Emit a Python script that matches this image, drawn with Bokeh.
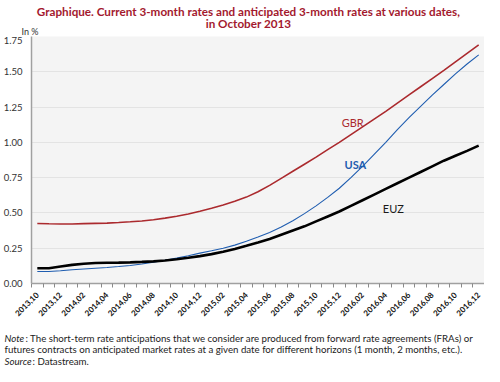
import math
from bokeh.plotting import figure
from bokeh.layouts import column
from bokeh.models import Range1d, FixedTicker, PrintfTickFormatter, Label
from bokeh.embed import file_html
from bokeh.resources import INLINE

months = ["2013,10", "2013,11", "2013,12", "2014,01", "2014,02", "2014,03", "2014,04",
          "2014,05", "2014,06", "2014,07", "2014,08", "2014,09", "2014,10", "2014,11",
          "2014,12", "2015,01", "2015,02", "2015,03", "2015,04", "2015,05", "2015,06",
          "2015,07", "2015,08", "2015,09", "2015,10", "2015,11", "2015,12", "2016,01",
          "2016,02", "2016,03", "2016,04", "2016,05", "2016,06", "2016,07", "2016,08",
          "2016,09", "2016,10", "2016,11", "2016,12"]

gbr = [0.425, 0.423, 0.422, 0.422, 0.424, 0.426, 0.428, 0.432, 0.437, 0.443,
       0.452, 0.463, 0.476, 0.492, 0.512, 0.533, 0.556, 0.582, 0.612, 0.650,
       0.695, 0.745, 0.795, 0.845, 0.895, 0.948, 1.000, 1.055, 1.110, 1.165,
       1.220, 1.278, 1.336, 1.394, 1.452, 1.510, 1.570, 1.630, 1.690]

usa = [0.085, 0.085, 0.090, 0.097, 0.103, 0.108, 0.113, 0.120, 0.128, 0.138,
       0.150, 0.165, 0.180, 0.197, 0.215, 0.232, 0.250, 0.272, 0.300, 0.330,
       0.362, 0.400, 0.445, 0.495, 0.550, 0.610, 0.675, 0.750, 0.830, 0.915,
       1.000, 1.090, 1.175, 1.255, 1.335, 1.410, 1.485, 1.555, 1.620]

euz = [0.108, 0.108, 0.120, 0.132, 0.140, 0.145, 0.147, 0.148, 0.150, 0.153,
       0.157, 0.163, 0.172, 0.182, 0.194, 0.208, 0.225, 0.245, 0.267, 0.290,
       0.315, 0.345, 0.375, 0.405, 0.440, 0.475, 0.510, 0.550, 0.590, 0.630,
       0.670, 0.710, 0.750, 0.790, 0.830, 0.870, 0.905, 0.940, 0.977]

y_ticks = [0.0, 0.25, 0.5, 0.75, 1.0, 1.25, 1.5, 1.75]

title_1 = "Graphique. Current 3-month rates and anticipated 3-month rates at various dates,"
title_2 = "in October 2013"
unit_text = "In %"
note_head = "Note"
note_1 = ": The short-term rate anticipations that we consider are produced from forward rate agreements (FRAs) or"
note_2 = "futures contracts on anticipated market rates at a given date for different horizons (1 month, 2 months, etc.)."
source_head = "Source"
source_text = ": Datastream."

FONT = "Lato"
RED = "#a3192e"
LINE_RED = "#ab2a2e"
BLUE = "#1f5db0"

W = 484
LEFT = 20
TOP_H = 36
FRAME_H = 247
MAIN_BOTTOM = 44
BOT_H = 39


def text_panel(height):
    f = figure(width=W, height=height, x_range=Range1d(0, W), y_range=Range1d(height, 0),
               output_backend="svg", toolbar_location=None, x_axis_type=None,
               y_axis_type=None, min_border=0, frame_align=False)
    f.outline_line_color = None
    f.background_fill_color = "white"
    f.border_fill_color = "white"
    return f


def lab(fig, text, xx, yy, **kw):
    opts = dict(text_font=FONT, text_font_size="9.7px", text_color="#222222",
                text_baseline="alphabetic")
    opts.update(kw)
    fig.add_layout(Label(x=xx, y=yy, text=text, **opts))


# ---- top panel: title + unit
top = text_panel(TOP_H)
lab(top, title_1, 248, 10, text_font_size="11.7px", text_font_style="bold",
    text_color=RED, text_align="center")
lab(top, title_2, 248, 22, text_font_size="11.7px", text_font_style="bold",
    text_color=RED, text_align="center")
lab(top, unit_text, LEFT + 1, 31, text_font_size="9px", text_color="#333333")

# ---- main chart
x = list(range(len(months)))
p = figure(width=W, height=FRAME_H + MAIN_BOTTOM,
           x_range=Range1d(-0.5, len(months) - 0.5), y_range=Range1d(0, 1.75),
           output_backend="svg", toolbar_location=None, frame_align=False,
           min_border_left=LEFT, min_border_right=0, min_border_top=0,
           min_border_bottom=MAIN_BOTTOM)
p.background_fill_color = "#f4f4f4"
p.border_fill_color = "white"
p.outline_line_color = None

p.xgrid.visible = False
p.ygrid.grid_line_color = "#e3e3e3"
p.ygrid.ticker = FixedTicker(ticks=y_ticks)

p.yaxis.ticker = FixedTicker(ticks=y_ticks)
p.yaxis.formatter = PrintfTickFormatter(format="%.2f")
p.yaxis.major_tick_line_color = None
p.yaxis.minor_tick_line_color = None
p.yaxis.axis_line_color = "#a0a0a0"
p.yaxis.axis_line_width = 1.5
p.yaxis.major_label_standoff = 3
p.yaxis.major_label_text_font = FONT
p.yaxis.major_label_text_font_size = "9.5px"
p.yaxis.major_label_text_color = "#333333"

p.xaxis.ticker = FixedTicker(ticks=list(range(0, len(months), 2)),
                             minor_ticks=[i - 0.5 for i in range(len(months) + 1)])
p.xaxis.major_label_overrides = {i: months[i] for i in range(0, len(months), 2)}
p.xaxis.major_tick_line_color = None
p.xaxis.minor_tick_line_color = "#8a8a8a"
p.xaxis.minor_tick_out = 4
p.xaxis.minor_tick_in = 0
p.xaxis.axis_line_color = "#a0a0a0"
p.xaxis.axis_line_width = 1.5
p.xaxis.major_label_orientation = math.pi / 4
p.xaxis.major_label_standoff = 4
p.xaxis.major_label_text_font = FONT
p.xaxis.major_label_text_font_style = "bold"
p.xaxis.major_label_text_font_size = "8px"
p.xaxis.major_label_text_color = "#111111"

p.line(x, gbr, line_color=LINE_RED, line_width=1.6)
p.line(x, usa, line_color=BLUE, line_width=1.1)
p.line(x, euz, line_color="black", line_width=2.6)

lab(p, "GBR", 26.2, 1.14, text_font_size="11px", text_color=LINE_RED)
lab(p, "USA", 26.45, 0.845, text_font_size="11px", text_color=BLUE, text_font_style="bold")
lab(p, "EUZ", 29.75, 0.53, text_font_size="11px", text_color="#1a1a1a")

# ---- bottom panel: notes
bot = text_panel(BOT_H)
lab(bot, note_head, 4, 10, text_font_style="italic")
lab(bot, note_1, 4, 10, x_offset=21)
lab(bot, note_2, 4, 21)
lab(bot, source_head, 4, 33, text_font_style="italic")
lab(bot, source_text, 4, 33, x_offset=28)

layout = column(top, p, bot, spacing=0)
open("out.html", "w").write(file_html(layout, INLINE))
